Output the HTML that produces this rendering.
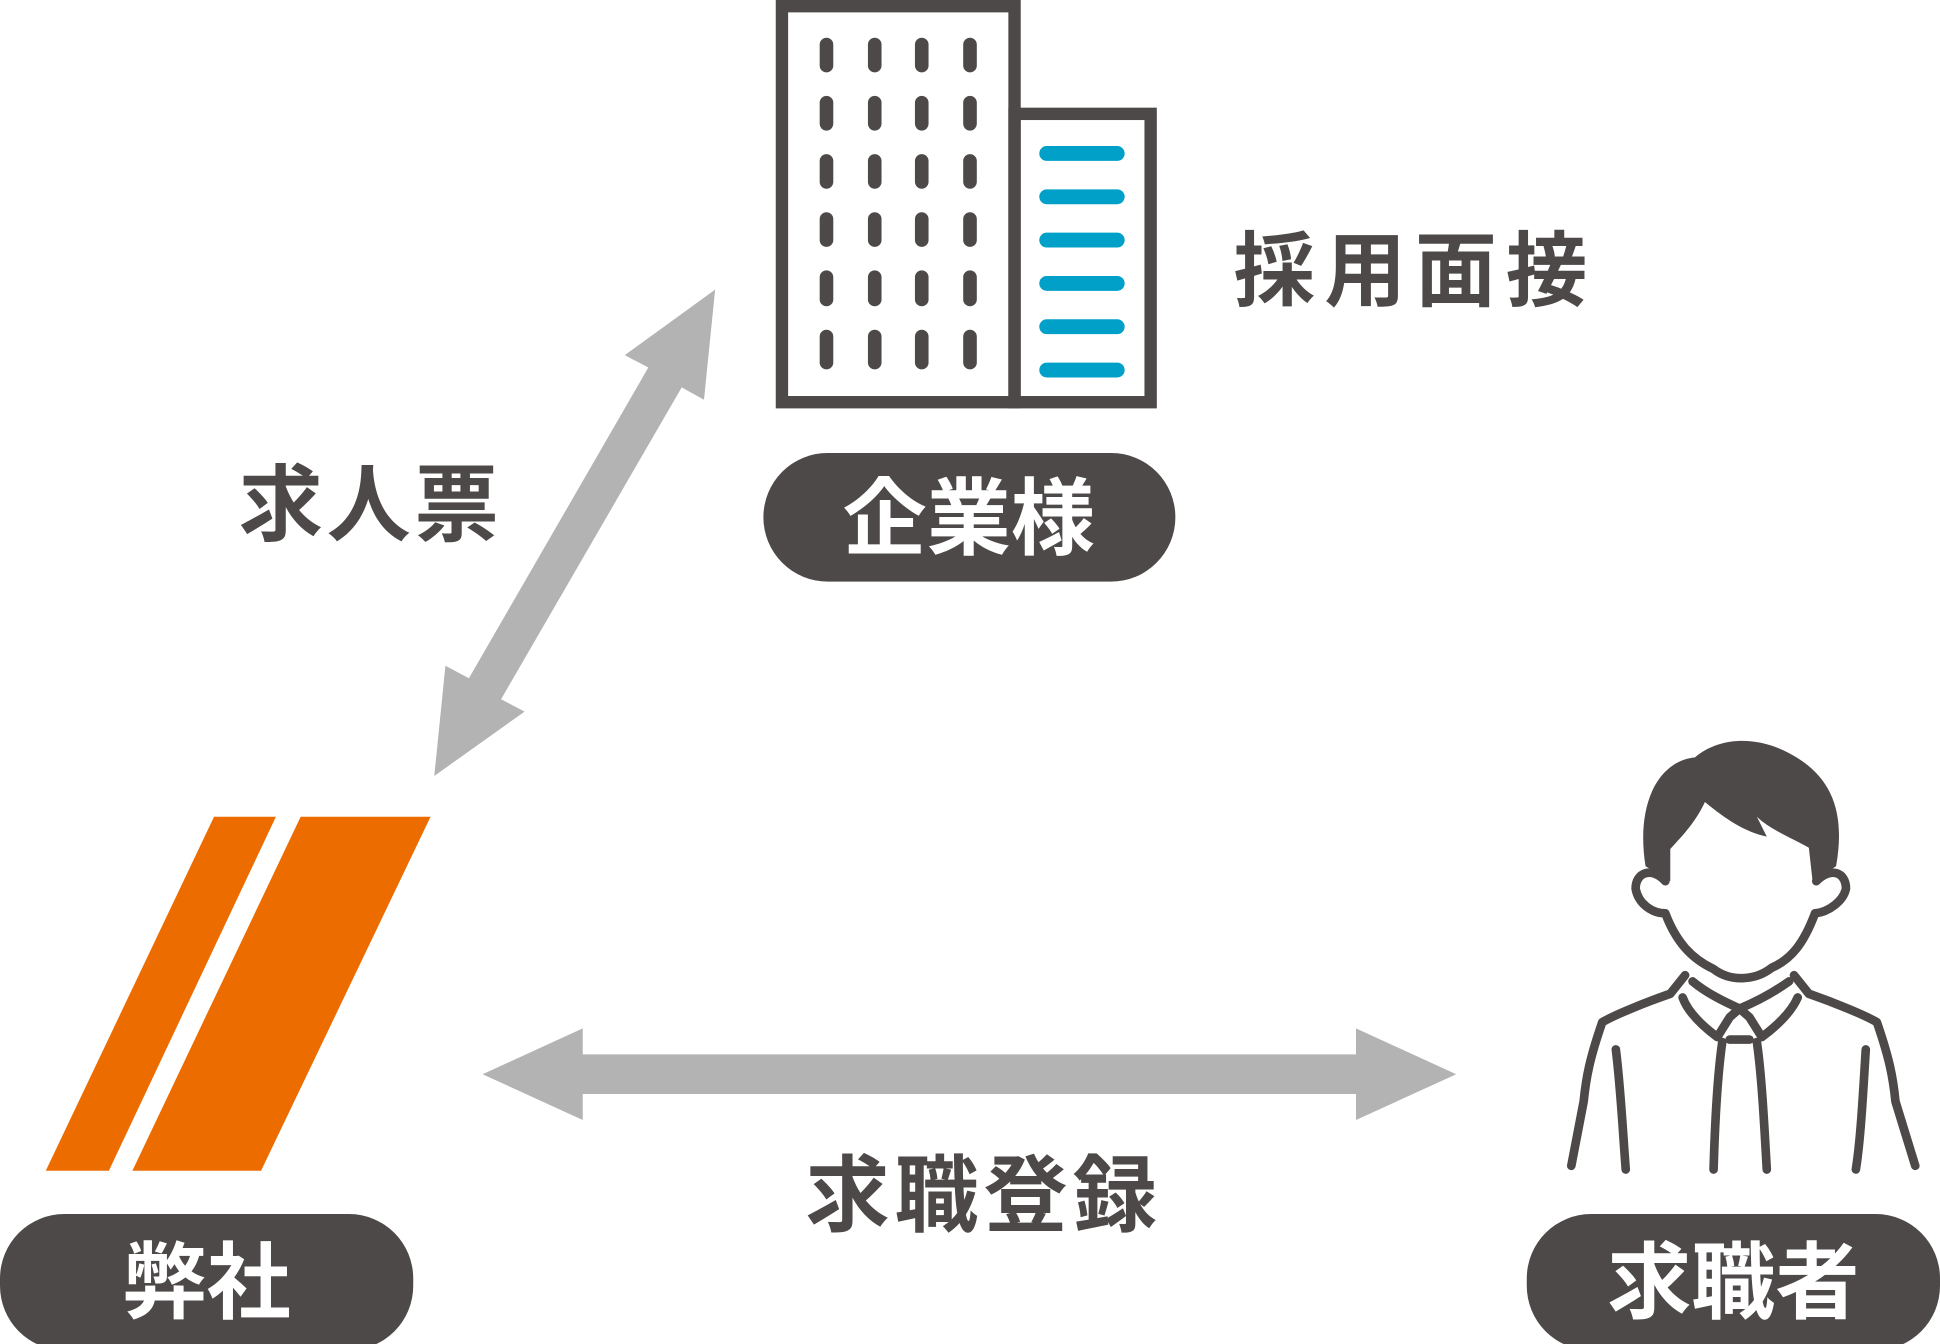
<!DOCTYPE html>
<html><head><meta charset="utf-8"><style>
html,body{margin:0;padding:0;background:#fff;width:1940px;height:1344px;overflow:hidden}
svg{display:block}
text{font-family:"Liberation Sans","Noto Sans CJK JP",sans-serif;font-weight:bold}
</style></head><body>
<svg width="1940" height="1344" viewBox="0 0 1568 1086" preserveAspectRatio="none">
<g fill="none" stroke="#4d4948" stroke-width="10">
<rect x="632" y="5" width="188" height="320"/>
<rect x="820" y="92" width="110" height="233"/>
</g>
<g stroke="#4d4948" stroke-width="11" stroke-linecap="round">
<g id="col">
<line x1="668" y1="36" x2="668" y2="53"/><line x1="668" y1="83" x2="668" y2="100"/><line x1="668" y1="130" x2="668" y2="147"/><line x1="668" y1="177" x2="668" y2="194"/><line x1="668" y1="224" x2="668" y2="242"/><line x1="668" y1="272" x2="668" y2="293"/>
</g>
<use href="#col" x="39"/><use href="#col" x="77"/><use href="#col" x="116"/>
</g>
<g stroke="#00a0c8" stroke-width="12" stroke-linecap="round">
<line x1="846" y1="124" x2="903" y2="124"/><line x1="846" y1="159" x2="903" y2="159"/><line x1="846" y1="194" x2="903" y2="194"/><line x1="846" y1="229" x2="903" y2="229"/><line x1="846" y1="264" x2="903" y2="264"/><line x1="846" y1="299" x2="903" y2="299"/>
</g>
<text x="997" y="242" font-size="66" fill="#4d4948" textLength="286">採用面接</text>
<rect x="617" y="366" width="333" height="104" rx="52" fill="#4d4948"/>
<text x="783" y="443" font-size="68" fill="#fff" text-anchor="middle">企業様</text>
<text x="193" y="432" font-size="68" fill="#4d4948" textLength="210">求人票</text>
<polygon fill="#b3b3b3" points="578,234 569,323 551,313 405,565 424,575 351,627 360,538 379,548 524,297 505,287"/>
<polygon fill="#ec6c00" points="173,660 223,660 88,946 37,946"/>
<polygon fill="#ec6c00" points="243,660 348,660 211,946 107,946"/>
<rect x="0" y="981" width="334" height="110" rx="52" fill="#4d4948"/>
<text x="167" y="1060" font-size="68" fill="#fff" text-anchor="middle">弊社</text>
<polygon fill="#b3b3b3" points="390,868 471,831 471,852 1096,852 1096,831 1177,868 1096,905 1096,884 471,884 471,905"/>
<text x="651" y="990" font-size="68" fill="#4d4948" textLength="284">求職登録</text>
<rect x="1234" y="981" width="334" height="110" rx="52" fill="#4d4948"/>
<text x="1401" y="1060" font-size="68" fill="#fff" text-anchor="middle">求職者</text>
<g fill="#4d4948">
<path d="M1330,700 C1322,650 1340,615 1370,612 C1390,595 1420,595 1445,608 C1480,626 1492,655 1484,700 L1465,712 L1462,685 C1450,678 1430,670 1420,660 L1428,676 C1410,672 1395,662 1378,648 C1370,665 1360,675 1350,686 L1350,712 Z"/>
</g>
<g fill="none" stroke="#4d4948" stroke-width="7" stroke-linecap="round" stroke-linejoin="round">
<path d="M1346,712 C1335,700 1322,705 1322,718 C1324,730 1335,738 1346,738 C1355,762 1368,775 1385,783 C1398,793 1418,793 1432,782 C1448,775 1458,762 1467,738 C1478,737 1490,728 1492,718 C1492,705 1480,700 1468,712"/>
<path d="M1362,788 L1350,803 C1330,810 1305,820 1295,826 C1285,855 1282,870 1280,890 L1270,942"/>
<path d="M1450,788 L1462,803 C1482,810 1507,820 1517,826 C1527,855 1530,870 1532,890 L1548,942"/>
<path d="M1368,793 C1380,803 1395,810 1406,815 C1418,810 1432,803 1446,793"/>
<path d="M1360,806 C1365,820 1380,832 1388,838 L1398,822 L1406,815 L1414,822 L1424,838 C1432,832 1447,820 1453,806"/>
<path d="M1392,842 C1388,870 1386,910 1385,945"/>
<path d="M1420,842 C1424,870 1426,910 1428,945"/>
<path d="M1398,840 L1414,840"/>
<path d="M1306,848 C1310,880 1312,920 1314,945"/>
<path d="M1508,848 C1506,880 1504,920 1500,945"/>
</g>
</svg>
</body></html>
